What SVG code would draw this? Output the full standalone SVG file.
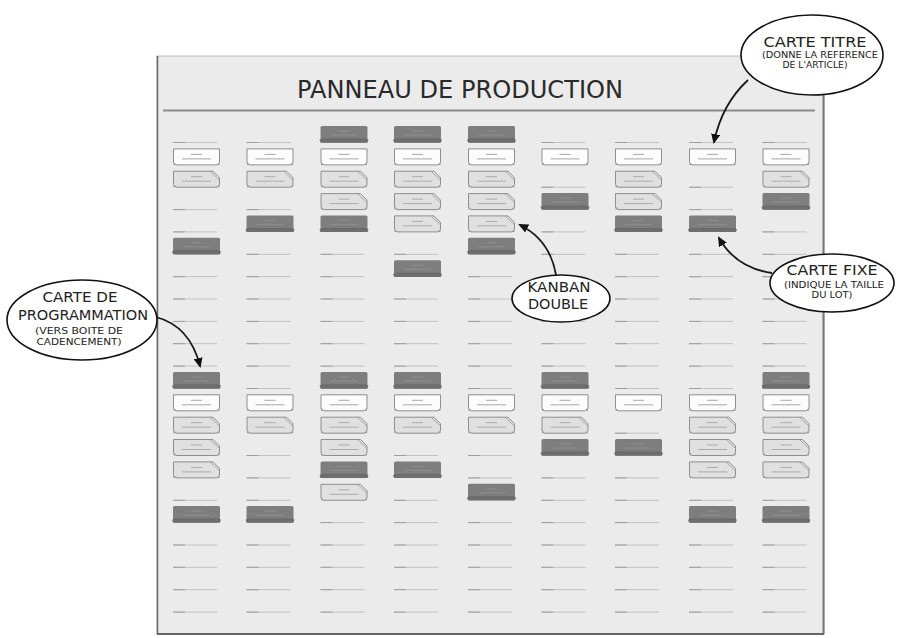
<svg xmlns="http://www.w3.org/2000/svg" xmlns:xlink="http://www.w3.org/1999/xlink" width="902" height="638" viewBox="0 0 902 638">
<style>
.hand{font-family:"DejaVu Sans","Liberation Sans",sans-serif;fill:#222;text-anchor:middle}
.big{font-size:13.5px}
.small{font-size:8.5px}
.bubble{fill:#fff;stroke:#111;stroke-width:1.6}
.conn{fill:none;stroke:#1a1a1a;stroke-width:1.8}
</style>
<defs>
<marker id="ah" viewBox="0 0 10 10" refX="8" refY="5" markerWidth="10" markerHeight="10" markerUnits="userSpaceOnUse" orient="auto">
<path d="M0,0.5 L10,5 L0,9.5 z" fill="#111"/>
</marker>
<g id="ln">
<path d="M0,16.5 H44" stroke="#c2c2c2" stroke-width="1"/>
<path d="M0,16.5 H12" stroke="#9e9e9e" stroke-width="1"/>
</g>
<g id="cW">
<path d="M0.5,0.5 H46.5 V14 L44,16.5 H3 L0.5,14 Z" fill="#fcfcfc" stroke="#8e8e8e"/>
<path d="M0.5,13.5 L3.5,16.5 L0.5,16.5Z M46.5,13.5 L43.5,16.5 L46.5,16.5Z" fill="#9a9a9a"/>
<path d="M18,6 H29 M9,10.5 H38" stroke="#a8a8a8" stroke-width="1"/>
</g>
<g id="cK">
<path d="M0.5,0.5 H40 L46.5,7 V14 L44,16.5 H3 L0.5,14 Z" fill="#e0e0e0" stroke="#8e8e8e"/>
<path d="M37,0.5 L46.5,9.5" stroke="#9a9a9a" stroke-width="0.8"/>
<path d="M0.5,13.5 L3.5,16.5 L0.5,16.5Z M46.5,13.5 L43.5,16.5 L46.5,16.5Z" fill="#9a9a9a"/>
<path d="M18,6 H29 M9,10.5 H38" stroke="#ababab" stroke-width="1"/>
</g>
<g id="cD">
<rect x="0" y="0" width="47" height="16.5" rx="1.5" fill="#7e7e7e"/>
<rect x="0" y="12.5" width="47" height="4" rx="1.5" fill="#686868"/>
<path d="M-1,13.5 L0,16.5 H47 L48,13.5" fill="#6e6e6e"/>
<path d="M18,5 H29 M10,9 H37" stroke="#8f8f8f" stroke-width="1"/>
</g>
</defs>
<rect width="902" height="638" fill="#fff"/>
<g id="board">
<rect x="157" y="56" width="667" height="578" fill="#ebebeb" stroke="#bdbdbd" stroke-width="1"/>
<path d="M157.5,56 V634" stroke="#666" stroke-width="1.5"/>
<path d="M823.5,56 V634" stroke="#777" stroke-width="2"/>
<path d="M157,634 H824" stroke="#666" stroke-width="2"/>
<path d="M163,110.5 H815" stroke="#8a8a8a" stroke-width="2"/>
<text x="460" y="98" class="hand" style="font-size:25px;fill:#2a2a2a" textLength="326" lengthAdjust="spacingAndGlyphs">PANNEAU DE PRODUCTION</text>
</g>
<g id="col1">
<use href="#ln" x="173" y="126"/><use href="#cW" x="173" y="148.4"/><use href="#cK" x="173" y="170.7"/><use href="#ln" x="173" y="193.1"/><use href="#ln" x="173" y="215.4"/><use href="#cD" x="173" y="237.8"/>
<use href="#ln" x="173" y="260.2"/><use href="#ln" x="173" y="282.5"/><use href="#ln" x="173" y="304.9"/><use href="#ln" x="173" y="327.2"/><use href="#ln" x="173" y="349.6"/>
<use id="prog-card" href="#cD" x="173" y="372"/><use href="#cW" x="173" y="394.3"/><use href="#cK" x="173" y="416.7"/><use href="#cK" x="173" y="439"/><use href="#cK" x="173" y="461.4"/><use href="#ln" x="173" y="483.8"/><use href="#cD" x="173" y="506.1"/>
<use href="#ln" x="173" y="528.5"/><use href="#ln" x="173" y="550.8"/><use href="#ln" x="173" y="573.2"/><use href="#ln" x="173" y="595.6"/>
</g>
<g id="col2">
<use href="#ln" x="246.5" y="126"/><use href="#cW" x="246.5" y="148.4"/><use href="#cK" x="246.5" y="170.7"/><use href="#ln" x="246.5" y="193.1"/><use href="#cD" x="246.5" y="215.4"/><use href="#ln" x="246.5" y="237.8"/>
<use href="#ln" x="246.5" y="260.2"/><use href="#ln" x="246.5" y="282.5"/><use href="#ln" x="246.5" y="304.9"/><use href="#ln" x="246.5" y="327.2"/><use href="#ln" x="246.5" y="349.6"/>
<use href="#ln" x="246.5" y="372"/><use href="#cW" x="246.5" y="394.3"/><use href="#cK" x="246.5" y="416.7"/><use href="#ln" x="246.5" y="439"/><use href="#ln" x="246.5" y="461.4"/><use href="#ln" x="246.5" y="483.8"/><use href="#cD" x="246.5" y="506.1"/>
<use href="#ln" x="246.5" y="528.5"/><use href="#ln" x="246.5" y="550.8"/><use href="#ln" x="246.5" y="573.2"/><use href="#ln" x="246.5" y="595.6"/>
</g>
<g id="col3">
<use href="#cD" x="320.5" y="126"/><use href="#cW" x="320.5" y="148.4"/><use href="#cK" x="320.5" y="170.7"/><use href="#cK" x="320.5" y="193.1"/><use href="#cD" x="320.5" y="215.4"/><use href="#ln" x="320.5" y="237.8"/>
<use href="#ln" x="320.5" y="260.2"/><use href="#ln" x="320.5" y="282.5"/><use href="#ln" x="320.5" y="304.9"/><use href="#ln" x="320.5" y="327.2"/><use href="#ln" x="320.5" y="349.6"/>
<use href="#cD" x="320.5" y="372"/><use href="#cW" x="320.5" y="394.3"/><use href="#cK" x="320.5" y="416.7"/><use href="#cK" x="320.5" y="439"/><use href="#cD" x="320.5" y="461.4"/><use href="#cK" x="320.5" y="483.8"/><use href="#ln" x="320.5" y="506.1"/>
<use href="#ln" x="320.5" y="528.5"/><use href="#ln" x="320.5" y="550.8"/><use href="#ln" x="320.5" y="573.2"/><use href="#ln" x="320.5" y="595.6"/>
</g>
<g id="col4">
<use href="#cD" x="394" y="126"/><use href="#cW" x="394" y="148.4"/><use href="#cK" x="394" y="170.7"/><use href="#cK" x="394" y="193.1"/><use href="#cK" x="394" y="215.4"/><use href="#ln" x="394" y="237.8"/>
<use href="#cD" x="394" y="260.2"/><use href="#ln" x="394" y="282.5"/><use href="#ln" x="394" y="304.9"/><use href="#ln" x="394" y="327.2"/><use href="#ln" x="394" y="349.6"/>
<use href="#cD" x="394" y="372"/><use href="#cW" x="394" y="394.3"/><use href="#cK" x="394" y="416.7"/><use href="#ln" x="394" y="439"/><use href="#cD" x="394" y="461.4"/><use href="#ln" x="394" y="483.8"/><use href="#ln" x="394" y="506.1"/>
<use href="#ln" x="394" y="528.5"/><use href="#ln" x="394" y="550.8"/><use href="#ln" x="394" y="573.2"/><use href="#ln" x="394" y="595.6"/>
</g>
<g id="col5">
<use href="#cD" x="468" y="126"/><use href="#cW" x="468" y="148.4"/><use href="#cK" x="468" y="170.7"/><use href="#cK" x="468" y="193.1"/><use id="double-kanban" href="#cK" x="468" y="215.4"/><use href="#cD" x="468" y="237.8"/>
<use href="#ln" x="468" y="260.2"/><use href="#ln" x="468" y="282.5"/><use href="#ln" x="468" y="304.9"/><use href="#ln" x="468" y="327.2"/><use href="#ln" x="468" y="349.6"/>
<use href="#ln" x="468" y="372"/><use href="#cW" x="468" y="394.3"/><use href="#cK" x="468" y="416.7"/><use href="#ln" x="468" y="439"/><use href="#ln" x="468" y="461.4"/><use href="#cD" x="468" y="483.8"/><use href="#ln" x="468" y="506.1"/>
<use href="#ln" x="468" y="528.5"/><use href="#ln" x="468" y="550.8"/><use href="#ln" x="468" y="573.2"/><use href="#ln" x="468" y="595.6"/>
</g>
<g id="col6">
<use href="#ln" x="541.5" y="126"/><use href="#cW" x="541.5" y="148.4"/><use href="#ln" x="541.5" y="170.7"/><use href="#cD" x="541.5" y="193.1"/><use href="#ln" x="541.5" y="215.4"/><use href="#ln" x="541.5" y="237.8"/>
<use href="#ln" x="541.5" y="260.2"/><use href="#ln" x="541.5" y="282.5"/><use href="#ln" x="541.5" y="304.9"/><use href="#ln" x="541.5" y="327.2"/><use href="#ln" x="541.5" y="349.6"/>
<use href="#cD" x="541.5" y="372"/><use href="#cW" x="541.5" y="394.3"/><use href="#cK" x="541.5" y="416.7"/><use href="#cD" x="541.5" y="439"/><use href="#ln" x="541.5" y="461.4"/><use href="#ln" x="541.5" y="483.8"/><use href="#ln" x="541.5" y="506.1"/>
<use href="#ln" x="541.5" y="528.5"/><use href="#ln" x="541.5" y="550.8"/><use href="#ln" x="541.5" y="573.2"/><use href="#ln" x="541.5" y="595.6"/>
</g>
<g id="col7">
<use href="#ln" x="615" y="126"/><use href="#cW" x="615" y="148.4"/><use href="#cK" x="615" y="170.7"/><use href="#cK" x="615" y="193.1"/><use href="#cD" x="615" y="215.4"/><use href="#ln" x="615" y="237.8"/>
<use href="#ln" x="615" y="260.2"/><use href="#ln" x="615" y="282.5"/><use href="#ln" x="615" y="304.9"/><use href="#ln" x="615" y="327.2"/><use href="#ln" x="615" y="349.6"/>
<use href="#ln" x="615" y="372"/><use href="#cW" x="615" y="394.3"/><use href="#ln" x="615" y="416.7"/><use href="#cD" x="615" y="439"/><use href="#ln" x="615" y="461.4"/><use href="#ln" x="615" y="483.8"/><use href="#ln" x="615" y="506.1"/>
<use href="#ln" x="615" y="528.5"/><use href="#ln" x="615" y="550.8"/><use href="#ln" x="615" y="573.2"/><use href="#ln" x="615" y="595.6"/>
</g>
<g id="col8">
<use href="#ln" x="689" y="126"/><use id="title-card" href="#cW" x="689" y="148.4"/><use href="#ln" x="689" y="170.7"/><use href="#ln" x="689" y="193.1"/><use id="fixed-card" href="#cD" x="689" y="215.4"/><use href="#ln" x="689" y="237.8"/>
<use href="#ln" x="689" y="260.2"/><use href="#ln" x="689" y="282.5"/><use href="#ln" x="689" y="304.9"/><use href="#ln" x="689" y="327.2"/><use href="#ln" x="689" y="349.6"/>
<use href="#ln" x="689" y="372"/><use href="#cW" x="689" y="394.3"/><use href="#cK" x="689" y="416.7"/><use href="#cK" x="689" y="439"/><use href="#cK" x="689" y="461.4"/><use href="#ln" x="689" y="483.8"/><use href="#cD" x="689" y="506.1"/>
<use href="#ln" x="689" y="528.5"/><use href="#ln" x="689" y="550.8"/><use href="#ln" x="689" y="573.2"/><use href="#ln" x="689" y="595.6"/>
</g>
<g id="col9">
<use href="#ln" x="762.5" y="126"/><use href="#cW" x="762.5" y="148.4"/><use href="#cK" x="762.5" y="170.7"/><use href="#cD" x="762.5" y="193.1"/><use href="#ln" x="762.5" y="215.4"/><use href="#ln" x="762.5" y="237.8"/>
<use href="#ln" x="762.5" y="260.2"/><use href="#ln" x="762.5" y="282.5"/><use href="#ln" x="762.5" y="304.9"/><use href="#ln" x="762.5" y="327.2"/><use href="#ln" x="762.5" y="349.6"/>
<use href="#cD" x="762.5" y="372"/><use href="#cW" x="762.5" y="394.3"/><use href="#cK" x="762.5" y="416.7"/><use href="#cK" x="762.5" y="439"/><use href="#cK" x="762.5" y="461.4"/><use href="#ln" x="762.5" y="483.8"/><use href="#cD" x="762.5" y="506.1"/>
<use href="#ln" x="762.5" y="528.5"/><use href="#ln" x="762.5" y="550.8"/><use href="#ln" x="762.5" y="573.2"/><use href="#ln" x="762.5" y="595.6"/>
</g>
<g id="connectors">
<path class="conn" d="M748,80 Q722,104 714,142" marker-end="url(#ah)"/>
<path class="conn" d="M772,273 Q736,268 719,238" marker-end="url(#ah)"/>
<path class="conn" d="M556,275 Q550,240 520,225" marker-end="url(#ah)"/>
<path class="conn" d="M156,317 Q190,326 200,366" marker-end="url(#ah)"/>
</g>
<g id="callout-titre">
<ellipse class="bubble" cx="812" cy="55" rx="71" ry="40"/>
<text x="815" y="47" class="hand big" textLength="103" lengthAdjust="spacingAndGlyphs">CARTE TITRE</text>
<text x="820" y="57.5" class="hand small" textLength="116" lengthAdjust="spacingAndGlyphs">(DONNE LA REFERENCE</text>
<text x="815" y="67.5" class="hand small" textLength="65" lengthAdjust="spacingAndGlyphs">DE L'ARTICLE)</text>
</g>
<g id="callout-fixe">
<ellipse class="bubble" cx="832" cy="283" rx="62" ry="29"/>
<text x="832" y="275" class="hand big" textLength="91" lengthAdjust="spacingAndGlyphs">CARTE FIXE</text>
<text x="834" y="287.5" class="hand small" textLength="100" lengthAdjust="spacingAndGlyphs">(INDIQUE LA TAILLE</text>
<text x="832" y="297.5" class="hand small" textLength="41" lengthAdjust="spacingAndGlyphs">DU LOT)</text>
</g>
<g id="callout-kanban">
<ellipse class="bubble" cx="561" cy="298.5" rx="49" ry="23.5"/>
<text x="559" y="292" class="hand big" textLength="63" lengthAdjust="spacingAndGlyphs">KANBAN</text>
<text x="558" y="309" class="hand big" textLength="60" lengthAdjust="spacingAndGlyphs">DOUBLE</text>
</g>
<g id="callout-programmation">
<ellipse class="bubble" cx="82" cy="320" rx="75" ry="40"/>
<text x="80" y="302" class="hand big" textLength="75" lengthAdjust="spacingAndGlyphs">CARTE DE</text>
<text x="83" y="320" class="hand big" textLength="130" lengthAdjust="spacingAndGlyphs">PROGRAMMATION</text>
<text x="79" y="333.5" class="hand small" textLength="88" lengthAdjust="spacingAndGlyphs">(VERS BOITE DE</text>
<text x="79" y="345" class="hand small" textLength="85" lengthAdjust="spacingAndGlyphs">CADENCEMENT)</text>
</g>
</svg>
